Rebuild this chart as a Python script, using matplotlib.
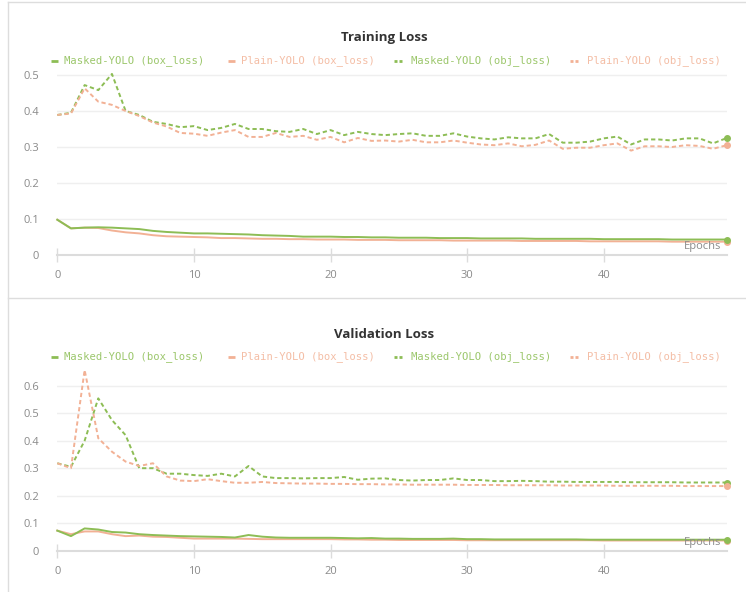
#!/usr/bin/env python3

import sys

from matplotlib import pyplot
from matplotlib.lines import Line2D


EPOCHS = list(range(50))

# Training loss curves
TRAIN_MASKED_BOX = [
    0.098, 0.074, 0.076, 0.077, 0.076, 0.074, 0.072, 0.067, 0.064, 0.062,
    0.060, 0.060, 0.059, 0.058, 0.057, 0.055, 0.054, 0.053, 0.051, 0.051,
    0.051, 0.050, 0.050, 0.049, 0.049, 0.048, 0.048, 0.048, 0.047, 0.047,
    0.047, 0.046, 0.046, 0.046, 0.046, 0.045, 0.045, 0.045, 0.045, 0.045,
    0.044, 0.044, 0.044, 0.044, 0.044, 0.043, 0.043, 0.043, 0.043, 0.043,
]
TRAIN_PLAIN_BOX = [
    0.098, 0.074, 0.076, 0.075, 0.068, 0.063, 0.060, 0.055, 0.052, 0.051,
    0.050, 0.049, 0.047, 0.047, 0.046, 0.045, 0.045, 0.044, 0.044, 0.043,
    0.043, 0.043, 0.042, 0.042, 0.042, 0.041, 0.041, 0.041, 0.041, 0.040,
    0.040, 0.040, 0.040, 0.040, 0.039, 0.039, 0.039, 0.039, 0.039, 0.038,
    0.038, 0.038, 0.038, 0.038, 0.038, 0.037, 0.037, 0.037, 0.037, 0.037,
]
TRAIN_MASKED_OBJ = [
    0.389, 0.395, 0.472, 0.458, 0.503, 0.400, 0.389, 0.370, 0.364, 0.355,
    0.358, 0.347, 0.353, 0.364, 0.350, 0.350, 0.344, 0.342, 0.350, 0.336,
    0.347, 0.333, 0.342, 0.336, 0.333, 0.336, 0.338, 0.331, 0.331, 0.338,
    0.329, 0.324, 0.321, 0.327, 0.324, 0.324, 0.336, 0.312, 0.312, 0.315,
    0.324, 0.329, 0.307, 0.321, 0.321, 0.318, 0.324, 0.324, 0.310, 0.325,
]
TRAIN_PLAIN_OBJ = [
    0.389, 0.393, 0.463, 0.426, 0.417, 0.400, 0.386, 0.368, 0.357, 0.339,
    0.337, 0.331, 0.340, 0.347, 0.328, 0.328, 0.339, 0.328, 0.331, 0.320,
    0.328, 0.313, 0.325, 0.317, 0.318, 0.315, 0.320, 0.313, 0.313, 0.318,
    0.312, 0.307, 0.305, 0.310, 0.302, 0.306, 0.318, 0.295, 0.298, 0.298,
    0.305, 0.310, 0.290, 0.302, 0.302, 0.300, 0.305, 0.303, 0.295, 0.305,
]

# Validation loss curves
VAL_MASKED_BOX = [
    0.073, 0.053, 0.081, 0.077, 0.068, 0.066, 0.060, 0.057, 0.055, 0.053,
    0.052, 0.051, 0.050, 0.048, 0.057, 0.051, 0.048, 0.047, 0.047, 0.047,
    0.047, 0.046, 0.045, 0.046, 0.044, 0.044, 0.043, 0.043, 0.043, 0.044,
    0.042, 0.042, 0.041, 0.041, 0.041, 0.041, 0.041, 0.041, 0.041, 0.040,
    0.040, 0.040, 0.040, 0.040, 0.040, 0.040, 0.040, 0.040, 0.040, 0.040,
]
VAL_PLAIN_BOX = [
    0.073, 0.060, 0.070, 0.070, 0.060, 0.053, 0.055, 0.051, 0.050, 0.047,
    0.044, 0.044, 0.044, 0.044, 0.043, 0.042, 0.042, 0.042, 0.042, 0.042,
    0.042, 0.041, 0.041, 0.040, 0.040, 0.039, 0.039, 0.039, 0.039, 0.039,
    0.038, 0.038, 0.038, 0.038, 0.038, 0.038, 0.038, 0.038, 0.038, 0.038,
    0.037, 0.037, 0.037, 0.037, 0.037, 0.037, 0.037, 0.037, 0.037, 0.037,
]
VAL_MASKED_OBJ = [
    0.318, 0.305, 0.400, 0.554, 0.475, 0.420, 0.300, 0.300, 0.280, 0.280,
    0.275, 0.272, 0.280, 0.270, 0.308, 0.270, 0.264, 0.264, 0.263, 0.264,
    0.264, 0.268, 0.258, 0.262, 0.263, 0.257, 0.255, 0.257, 0.257, 0.263,
    0.257, 0.257, 0.253, 0.253, 0.254, 0.253, 0.251, 0.251, 0.250, 0.250,
    0.250, 0.250, 0.249, 0.249, 0.249, 0.249, 0.248, 0.248, 0.248, 0.248,
]
VAL_PLAIN_OBJ = [
    0.318, 0.300, 0.657, 0.409, 0.360, 0.324, 0.308, 0.318, 0.270, 0.255,
    0.253, 0.260, 0.253, 0.247, 0.247, 0.250, 0.246, 0.245, 0.244, 0.244,
    0.243, 0.243, 0.242, 0.242, 0.241, 0.241, 0.240, 0.240, 0.240, 0.240,
    0.239, 0.239, 0.239, 0.238, 0.238, 0.238, 0.238, 0.237, 0.237, 0.237,
    0.237, 0.236, 0.236, 0.236, 0.236, 0.236, 0.235, 0.235, 0.235, 0.235,
]

LEGEND_LABELS = (
    "Masked-YOLO (box_loss)",
    "Plain-YOLO (box_loss)",
    "Masked-YOLO (obj_loss)",
    "Plain-YOLO (obj_loss)",
)

GREEN = '#8dbd55'
ORANGE = '#f2b195'
GREEN_TEXT = '#9cc76c'
ORANGE_TEXT = '#f4bea6'
GRID = '#efefef'
TICK_TEXT = '#8a8a8a'

W, H = 746, 592


def fx(px):
    return px / W


def fy(py):
    return 1 - py / H


def legend_row(fig, y):
    # handle x-start, text x-start for each entry
    slots = ((51, 64), (228, 241), (394, 411), (570, 587))
    styles = ((GREEN, '-'), (ORANGE, '-'), (GREEN, '--'), (ORANGE, '--'))
    texts = (GREEN_TEXT, ORANGE_TEXT, GREEN_TEXT, ORANGE_TEXT)
    for (hx, tx), (col, ls), tcol, label in zip(slots, styles, texts, LEGEND_LABELS):
        if ls == '-':
            segments = [(hx, hx + 7)]
        else:
            segments = [(hx, hx + 3), (hx + 5, hx + 8)]
        for a, b in segments:
            fig.add_artist(Line2D([fx(a), fx(b)], [fy(y), fy(y)],
                                  color=col, lw=2, solid_capstyle='butt'))
        fig.text(fx(tx), fy(y), label, color=tcol, fontsize=7.6,
                 family='DejaVu Sans Mono', va='center', ha='left')


def panel(fig, title, title_y, legend_y, zero_y, px_per_unit, ymax, yticks, series, epochs_y):
    left, right = 57.3, 726.7
    height = ymax * px_per_unit
    axes = fig.add_axes([fx(left), fy(zero_y), fx(right - left), height / H])

    for spine in ("left", "right", "top"):
        axes.spines[spine].set_visible(False)
    axes.spines["bottom"].set_color('#dcdcdc')
    axes.spines["bottom"].set_linewidth(1.5)

    axes.set_xlim(0, 49)
    axes.set_ylim(0, ymax)
    axes.set_xticks([0, 10, 20, 30, 40])
    axes.set_yticks(yticks)
    axes.set_yticklabels(["0" if t == 0 else f"{t:.1f}" for t in yticks])
    axes.tick_params(axis='y', length=0, pad=13, labelcolor=TICK_TEXT, labelsize=8)
    axes.tick_params(axis='x', direction='inout', length=10, width=1, color='#dcdcdc',
                     pad=6, labelcolor=TICK_TEXT, labelsize=8)
    for t in yticks:
        if t > 0:
            axes.axhline(t, color=GRID, lw=1, zorder=0)

    for y, colour, style in series:
        axes.plot(EPOCHS, y, color=colour, lw=1.4, linestyle=style,
                  dashes=(2.2, 1.5) if style == '--' else (None, None), clip_on=False)
        axes.plot(EPOCHS[-1], y[-1], 'o', color=colour, markersize=4, clip_on=False)

    fig.text(fx(384), fy(title_y), title, fontsize=9.5, fontweight='bold',
             color='#333333', ha='center', va='center', family='Open Sans')
    fig.text(fx(721), fy(epochs_y), "Epochs", fontsize=8, color=TICK_TEXT,
             ha='right', va='center', family='Open Sans')
    legend_row(fig, legend_y)
    return axes


def main() -> int:
    pyplot.rcParams['font.family'] = ['Open Sans', 'DejaVu Sans']
    fig = pyplot.figure(figsize=(W / 100, H / 100), dpi=100)

    # panel frames
    border = '#dddddd'
    fig.add_artist(Line2D([fx(8), 1], [fy(1.5), fy(1.5)], color=border, lw=1))
    fig.add_artist(Line2D([fx(8), fx(8)], [fy(1.5), 0], color=border, lw=1))
    fig.add_artist(Line2D([fx(8), 1], [fy(297.5), fy(297.5)], color=border, lw=1))

    panel(fig, "Training Loss", 38, 61, 255, 360, 0.52,
          [0, 0.1, 0.2, 0.3, 0.4, 0.5],
          [(TRAIN_MASKED_OBJ, GREEN, '--'), (TRAIN_PLAIN_OBJ, ORANGE, '--'),
           (TRAIN_PLAIN_BOX, ORANGE, '-'), (TRAIN_MASKED_BOX, GREEN, '-')],
          246)
    panel(fig, "Validation Loss", 334, 357, 550.7, 275, 0.67,
          [0, 0.1, 0.2, 0.3, 0.4, 0.5, 0.6],
          [(VAL_MASKED_OBJ, GREEN, '--'), (VAL_PLAIN_OBJ, ORANGE, '--'),
           (VAL_PLAIN_BOX, ORANGE, '-'), (VAL_MASKED_BOX, GREEN, '-')],
          542)

    fig.savefig("out.png", dpi=100)
    return 0


if __name__ == '__main__':
    sys.exit(main())
